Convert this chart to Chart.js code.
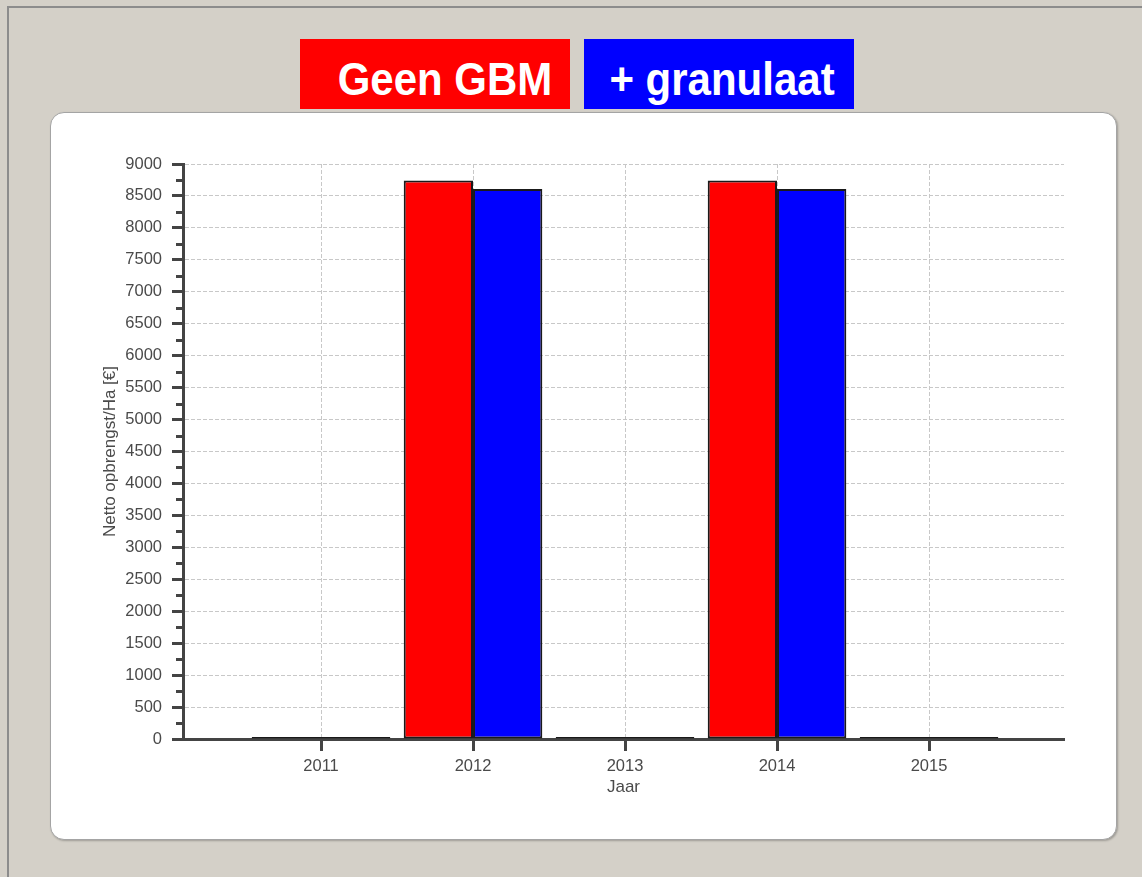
<!DOCTYPE html>
<html>
<head>
<meta charset="utf-8">
<script src="https://cdn.jsdelivr.net/npm/chart.js@4/dist/chart.umd.min.js"></script>
<style>
    body { margin: 0; width: 1142px; height: 877px; background: #d4d0c8; overflow: hidden; position: relative; font-family: "Liberation Sans", Arial, sans-serif; }
    .frame { position: absolute; left: 7px; top: 6px; right: -10px; bottom: -10px; border-left: 2px solid #8c8c8c; border-top: 2px solid #8c8c8c; }
    .key { position: absolute; top: 39px; width: 270px; height: 70px; overflow: hidden; color: #fff; font-weight: bold; font-size: 42px; line-height: 82px; text-align: center; white-space: nowrap; }
    .key span { display: inline-block; transform: scaleY(1.1); }
    .panel { position: absolute; left: 50px; top: 112px; width: 1065px; height: 726px; background: #fff; border: 1px solid #a4a4a4; border-radius: 14px; box-shadow: 1px 1px 2px rgba(0,0,0,0.25); }
    .chart-box { position: absolute; left: 50px; top: 112px; width: 1067px; height: 728px; }
</style>
</head>
<body>
<div class="frame"></div>
<div class="key" style="left:300px; background:#ff0000; text-indent:10px;"><span>Geen GBM</span></div>
<div class="key" style="left:584px; background:#0000ff; text-indent:3px;"><span>+ granulaat</span></div>
<div class="panel"></div>
<div class="chart-box"><canvas id="opbrengstChart" width="1067" height="728"></canvas></div>
<script>
var years = [2011, 2012, 2013, 2014, 2015];
var geenGbm = [0, 8740, 0, 8740, 0];
var granulaat = [0, 8610, 0, 8610, 0];
var seriesLabels = ['Geen GBM', '+ granulaat'];
var yTitle = 'Netto opbrengst/Ha [€]';
var xTitle = 'Jaar';

var axisColor = '#444444';
var gridColor = '#c8c8c8';
var labelColor = '#4a4a4a';

function toPoints(values) {
    return years.map(function(y, i) { return { x: y, y: values[i] }; });
}

function barFill(color) {
    return function(c) { return c.raw && c.raw.y === 0 ? '#000' : color; };
}

// short minor ticks on the y axis (the library draws the long ones)
var minorTicks = {
    id: 'minorTicks',
    afterDatasetsDraw: function(chart) {
        var ys = chart.scales.y;
        var ctx = chart.ctx;
        ctx.save();
        ctx.strokeStyle = axisColor;
        ctx.lineWidth = 3;
        ys.ticks.forEach(function(t) {
            if (t.value % 500 === 0) { return; }
            var py = Math.round(ys.getPixelForValue(t.value)) + 0.5;
            ctx.beginPath();
            ctx.moveTo(ys.right - 7, py);
            ctx.lineTo(ys.right, py);
            ctx.stroke();
        });
        ctx.restore();
    }
};

Chart.defaults.font.family = '"Liberation Sans", Arial, sans-serif';

new Chart(document.getElementById('opbrengstChart'), {
    type: 'bar',
    data: {
        datasets: [
            { label: seriesLabels[0], data: toPoints(geenGbm), backgroundColor: barFill('#ff0000'), borderColor: '#1a1a1a', borderWidth: 2, borderSkipped: false, minBarLength: 2 },
            { label: seriesLabels[1], data: toPoints(granulaat), backgroundColor: barFill('#0000ff'), borderColor: '#1a1a1a', borderWidth: 2, borderSkipped: false, minBarLength: 2 }
        ]
    },
    plugins: [minorTicks],
    options: {
        responsive: false,
        devicePixelRatio: 1,
        animation: false,
        categoryPercentage: 0.912,
        barPercentage: 1.0,
        layout: { padding: { left: 46, right: 53, top: 52, bottom: 38 } },
        scales: {
            x: {
                type: 'linear',
                offset: false,
                min: 2010.092,
                max: 2015.888,
                afterFit: function(s) { s.height = 63; },
                ticks: { stepSize: 1, includeBounds: false, color: labelColor, font: { size: 16.5 }, padding: 6, callback: function(v) { return String(v); } },
                grid: { offset: false, color: gridColor, lineWidth: 1, tickLength: 12, tickWidth: 3, tickColor: axisColor, tickBorderDash: [] },
                border: { display: true, color: axisColor, width: 3, dash: [4, 2] },
                title: { display: true, text: xTitle, color: labelColor, font: { size: 17 }, padding: { top: 0, bottom: 4 } }
            },
            y: {
                min: 0,
                max: 9000,
                afterFit: function(s) { s.width = 87; },
                ticks: { stepSize: 250, autoSkip: false, color: labelColor, font: { size: 16.5 }, padding: 10, callback: function(v) { return v % 500 === 0 ? String(v) : ''; } },
                grid: {
                    color: function(c) { return c.tick && c.tick.value % 500 === 0 ? gridColor : 'transparent'; },
                    lineWidth: 1, tickLength: 11, tickWidth: 3,
                    tickColor: function(c) { return c.tick && c.tick.value % 500 === 0 ? axisColor : 'transparent'; },
                    tickBorderDash: []
                },
                border: { display: true, color: axisColor, width: 3, dash: [4, 2] },
                title: { display: true, text: yTitle, color: labelColor, font: { size: 17 }, padding: { top: 4, bottom: 0 } }
            }
        },
        plugins: { legend: { display: false }, tooltip: { enabled: false } }
    }
});
</script>
</body>
</html>
